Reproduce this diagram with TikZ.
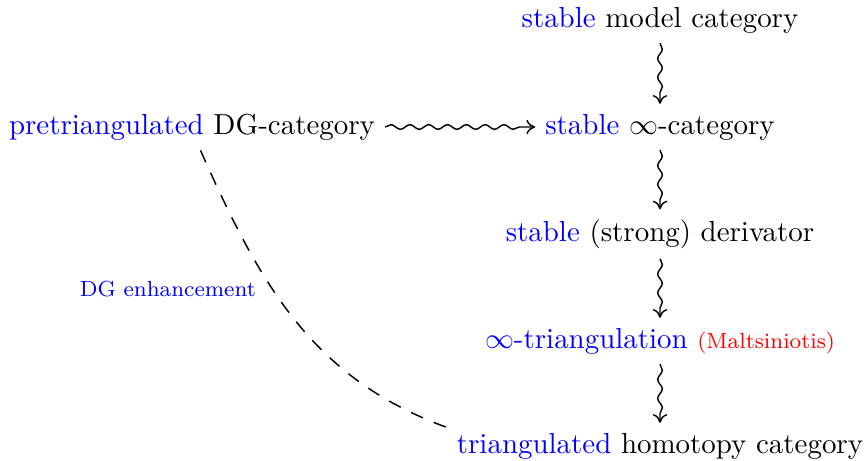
\documentclass[tikz,border=0pt]{standalone}
\usetikzlibrary{decorations.pathmorphing,arrows.meta}
\newcommand{\lblfont}{\fontsize{7.55pt}{9pt}\selectfont}
\begin{document}
\begin{tikzpicture}[x=0.3455pt,y=-0.3455pt,
  obj/.style={inner sep=3.33pt},
  squig/.style={decorate,decoration={snake,amplitude=0.8pt,segment length=6.5pt,post length=3pt},
    -{Computer Modern Rightarrow[length=3pt,width=5pt]}, line width=0.5pt},
  dgline/.style={dashed,dash pattern=on 4.5pt off 4pt, line width=0.5pt}]
\useasboundingbox (0,0) rectangle (866,460);
\node[obj] (smc)  at (660,20)  {\textcolor{blue}{stable} model category};
\node[obj] (ptdg) at (192,127) {\textcolor{blue}{pretriangulated} DG-category};
\node[obj] (sinf) at (660,127) {\textcolor{blue}{stable} $\infty$-category};
\node[obj] (der)  at (660,234) {\textcolor{blue}{stable} (strong) derivator};
\node[obj] (inft) at (660,341) {\textcolor{blue}{$\infty$-triangulation} \textcolor{red}{\lblfont (Maltsiniotis)}};
\node[obj] (thc)  at (660,446) {\textcolor{blue}{triangulated} homotopy category};
\draw[squig] (smc) -- (sinf);
\draw[squig] (sinf) -- (der);
\draw[squig] (der) -- (inft);
\draw[squig] (inft) -- (thc);
\draw[squig] (ptdg) -- (sinf);
\draw[dgline] (ptdg.-70) to[out=-66,in=160]
  node[pos=0.395,anchor=east,inner sep=5.5pt,text=blue,font=\lblfont] {DG enhancement} (thc.175);
\end{tikzpicture}
\end{document}
